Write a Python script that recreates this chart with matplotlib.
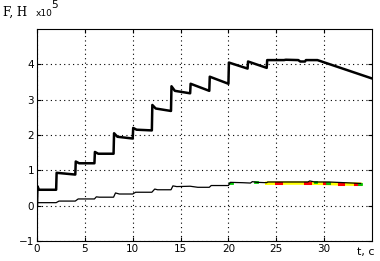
#!/usr/bin/env python3

import matplotlib
matplotlib.use("Agg")
import matplotlib.pyplot as plt
import numpy as np

# data (forces in units of 1e5 N, time in s)
t_main = [0, 0.05, 0.2, 2.0, 2.05, 4.0, 4.05, 4.4, 6.0, 6.05, 6.4, 8.0,
          8.05, 8.4, 10.0, 10.05, 10.4, 12.0, 12.05, 12.4, 14.0, 14.05, 14.4,
          16.0, 16.05, 18.0, 18.05, 20.0, 20.05, 22.0, 22.05, 24.0, 24.05,
          25.8, 26.0, 27.3, 27.5, 28.0, 28.1, 29.3, 35.0]
f_main = [0.0, 0.55, 0.45, 0.45, 0.93, 0.88, 1.25, 1.2, 1.2, 1.52, 1.47, 1.47,
          2.05, 1.95, 1.9, 2.2, 2.15, 2.13, 2.85, 2.75, 2.68, 3.38, 3.25,
          3.18, 3.45, 3.25, 3.65, 3.45, 4.05, 3.88, 4.08, 3.9, 4.12,
          4.12, 4.13, 4.12, 4.08, 4.08, 4.12, 4.12, 3.6]

t_thin = [0, 0.05, 2.0, 2.3, 4.0, 4.3, 6.0, 6.2, 6.5, 8.0, 8.2, 8.6, 10.0,
          10.3, 12.0, 12.3, 12.6, 14.0, 14.2, 14.6, 16.0, 16.8, 18.0, 18.2,
          20.0, 20.2, 21.5, 22.3, 22.5, 23.0, 24.0, 24.1, 28.3, 28.5, 29.0,
          30.5, 33.8]
f_thin = [0.0, 0.085, 0.085, 0.13, 0.13, 0.19, 0.19, 0.25, 0.24, 0.24, 0.36,
          0.33, 0.33, 0.38, 0.38, 0.47, 0.45, 0.45, 0.56, 0.54, 0.55, 0.52,
          0.52, 0.57, 0.57, 0.66, 0.65, 0.64, 0.68, 0.66, 0.65, 0.67, 0.67,
          0.70, 0.67, 0.67, 0.63]

t_yellow = [24.0, 26.0, 28.0, 30.0, 32.0, 33.8]
f_yellow = [0.635, 0.64, 0.64, 0.63, 0.615, 0.605]

t_red = [25.0, 28.0, 30.0, 31.5, 33.2]
f_red = [0.64, 0.64, 0.64, 0.625, 0.61]
t_green = [20.2, 22.8, 29.0, 30.3, 33.6]
f_green = [0.63, 0.66, 0.66, 0.65, 0.61]

fig = plt.figure(figsize=(3.8, 2.61), dpi=100)
ax = fig.add_axes([37 / 380, 20 / 261, 335 / 380, 212 / 261])

ax.plot(t_yellow, f_yellow, color='yellow', linewidth=2.5, zorder=2)
for t, f in zip(t_red, f_red):
    ax.plot([t, t + 0.5], [f, f], color='red', linewidth=2.2, zorder=2)
for t, f in zip(t_green, f_green):
    ax.plot([t, t + 0.2], [f, f], color='#00cc00', linewidth=2.0, zorder=2)
ax.plot(t_thin, f_thin, color='black', linewidth=0.9, zorder=3)
ax.plot(t_main, f_main, color='black', linewidth=1.8, zorder=4)

ax.set_xlim(0, 35)
ax.set_ylim(-1, 5)
ax.set_xticks(np.arange(0, 31, 5))
ax.set_yticks(np.arange(-1, 5, 1))

# grid lines
ax.grid(True, color='black', linestyle=(0, (1, 3)), linewidth=0.8)
ax.set_axisbelow(True)

ax.tick_params(direction='in', labelsize=7.5, length=3, pad=2,
               top=True, right=True)
for s in ax.spines.values():
    s.set_linewidth(0.8)

fig.text(3 / 380, 1 - 16 / 261, "F, H", fontsize=8.5, family='DejaVu Serif',
         va='baseline')
fig.text(36 / 380, 1 - 16 / 261, r"x10", fontsize=6.5, va='baseline')
fig.text(51 / 380, 1 - 8 / 261, "5", fontsize=7.5, va='baseline')
fig.text(357 / 380, 1 - 255 / 261, "t, c", fontsize=8, va='baseline')

plt.savefig("out.png", dpi=100)
